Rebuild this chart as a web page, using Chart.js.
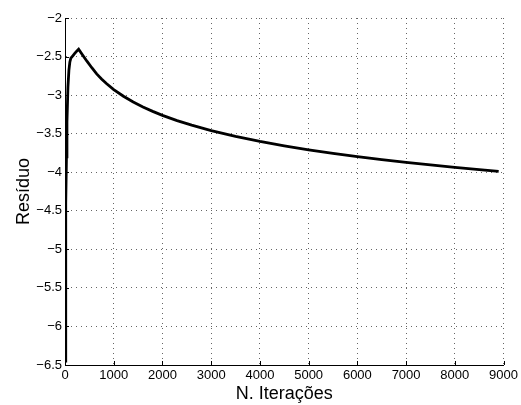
<!DOCTYPE html>
<html>
<head>
<meta charset="utf-8">
<script src="https://cdn.jsdelivr.net/npm/chart.js@4.4.1/dist/chart.umd.min.js"></script>
<style>
  html, body { margin: 0; padding: 0; background: #fff; }
  #wrap { width: 521px; height: 405px; }
</style>
</head>
<body>
<div id="wrap"><canvas id="c" width="521" height="405"></canvas></div>
<script>
// Residual history against iteration count
const iterations = [0, 10, 20, 30, 40, 60, 80, 100, 120, 160, 200, 240, 280, 350, 450, 550, 650, 750, 850,
  1000, 1200, 1400, 1600, 1800, 2000, 2300, 2600, 3000, 3500, 4000, 4500, 5000, 5500, 6000, 6500, 7000, 7500, 8000, 8500, 8900];
const residual = [-6.45, -5.3, -4.4, -3.8, -3.35, -2.9, -2.68, -2.57, -2.52, -2.49, -2.46, -2.43, -2.405, -2.47, -2.56, -2.645, -2.725, -2.79, -2.85,
  -2.928, -3.015, -3.089, -3.154, -3.211, -3.263, -3.331, -3.39, -3.46, -3.535, -3.60, -3.657, -3.709, -3.755, -3.798, -3.837, -3.873, -3.906, -3.938, -3.966, -3.99];

const xTicks = [0, 1000, 2000, 3000, 4000, 5000, 6000, 7000, 8000, 9000];
const yTicks = [-6.5, -6, -5.5, -5, -4.5, -4, -3.5, -3, -2.5, -2];
const xTitle = 'N. Iterações';
const yTitle = 'Resíduo';

const FONT = '"Liberation Sans", Arial, Helvetica, sans-serif';
const minusFmt = v => String(v).replace('-', '\u2212');

// Small tick marks pointing into the plot from the left and bottom axes
const inwardTicks = {
  id: 'inwardTicks',
  afterDraw(chart) {
    const ctx = chart.ctx, xs = chart.scales.x, ys = chart.scales.y;
    const len = 4;
    ctx.save();
    ctx.strokeStyle = '#000';
    ctx.lineWidth = 1;
    ctx.beginPath();
    xTicks.forEach(v => {
      const px = Math.round(xs.getPixelForValue(v)) + 0.5;
      ctx.moveTo(px, ys.bottom);
      ctx.lineTo(px, ys.bottom - len);
    });
    yTicks.forEach(v => {
      const py = Math.round(ys.getPixelForValue(v)) + 0.5;
      ctx.moveTo(xs.left, py);
      ctx.lineTo(xs.left + len, py);
    });
    ctx.stroke();
    ctx.restore();
  }
};

new Chart(document.getElementById('c'), {
  type: 'line',
  data: {
    datasets: [{
      data: iterations.map((x, i) => ({ x, y: residual[i] })),
      borderColor: '#000',
      borderWidth: 2.8,
      pointRadius: 0,
      tension: 0,
      fill: false
    }]
  },
  options: {
    responsive: false,
    animation: false,
    events: [],
    layout: { padding: { left: 0, right: 16, top: 18, bottom: 0 } },
    plugins: { legend: { display: false }, tooltip: { enabled: false } },
    scales: {
      x: {
        type: 'linear',
        min: 0, max: 9000,
        afterBuildTicks: s => { s.ticks = xTicks.map(v => ({ value: v })); },
        afterFit: s => { s.height = 40; },
        ticks: {
          color: '#000', font: { family: FONT, size: 13 }, padding: 3,
          maxRotation: 0, autoSkip: false, callback: v => minusFmt(v)
        },
        grid: { color: 'rgba(0,0,0,0.6)', lineWidth: 1, drawTicks: false },
        border: { display: true, color: '#000', width: 1, dash: [1, 4] },
        title: { display: true, text: xTitle, color: '#000', font: { family: FONT, size: 18 }, padding: { top: 0, bottom: 0 } }
      },
      y: {
        type: 'linear',
        min: -6.5, max: -2,
        afterBuildTicks: s => { s.ticks = yTicks.map(v => ({ value: v })); },
        afterFit: s => { s.width = 65; },
        ticks: {
          color: '#000', font: { family: FONT, size: 13 }, padding: 3,
          autoSkip: false, callback: v => minusFmt(v)
        },
        grid: { color: 'rgba(0,0,0,0.6)', lineWidth: 1, drawTicks: false },
        border: { display: true, color: '#000', width: 1, dash: [1, 4] },
        title: { display: true, text: yTitle, color: '#000', font: { family: FONT, size: 18 }, padding: { top: 13, bottom: 0 } }
      }
    }
  },
  plugins: [inwardTicks]
});
</script>
</body>
</html>
